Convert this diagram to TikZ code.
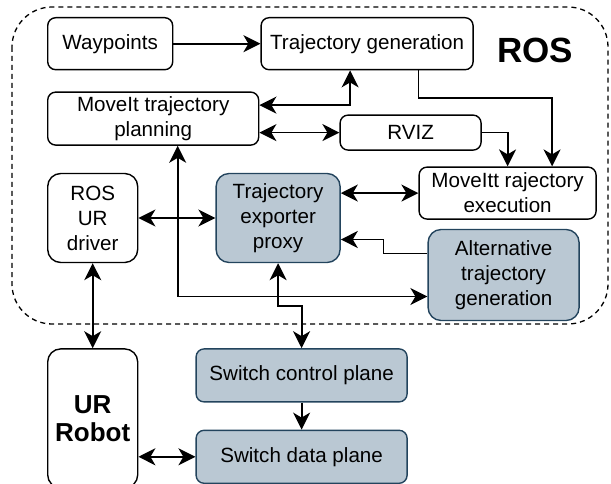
\documentclass[tikz,border=0pt]{standalone}
\usepackage{fontspec}
\setmainfont{Liberation Sans}
\usepackage{xcolor}
\usepackage{tikz}
\usetikzlibrary{arrows.meta,positioning}

\definecolor{proxyfill}{HTML}{BAC8D3}
\definecolor{proxydraw}{HTML}{23445D}

\begin{document}
\begin{tikzpicture}[
    x=1pt, y=1pt,
    block/.style={rectangle, rounded corners=8pt, draw=black, fill=white, line width=1.4pt, inner sep=0pt, align=center, font=\fontsize{20.6}{25}\selectfont},
    shaded/.style={block, rounded corners=13pt, draw=proxydraw, fill=proxyfill},
    link/.style={-{Stealth[length=17pt, width=17pt, inset=5pt]}, line width=1.8pt},
    dlink/.style={{Stealth[length=17pt, width=17pt, inset=5pt]}-{Stealth[length=17pt, width=17pt, inset=5pt]}, line width=1.8pt}
]
    \useasboundingbox (0,0) rectangle (611,-484);

    % ROS container
    \draw [dashed, dash pattern=on 5pt off 4pt, line width=1.3pt, rounded corners=40pt] (12,-7) rectangle (608,-324);
    \node (roslabel) at (535,-50) {\fontsize{35}{40}\selectfont\bfseries ROS};

    \node (wayp) [block, anchor=north west, minimum width=125pt, minimum height=52pt] at (47,-17) {Waypoints};
    \node (trajgen) [block, right=87pt of wayp, minimum width=212pt, minimum height=52pt] {Trajectory generation};
    \node (plan) [block, below right=21pt and 0pt of wayp.south west, minimum width=211pt, minimum height=53pt] {MoveIt trajectory\\planning};
    \node (rviz) [block, below right=23pt and 80pt of plan.north east, minimum width=141pt, minimum height=35pt] {RVIZ};
    \node (exec) [block, below right=96pt and 158pt of trajgen.south west, minimum width=177pt, minimum height=52pt] {MoveItt rajectory\\execution};
    \node (driver) [block, rounded corners=13pt, below right=27pt and 0pt of plan.south west, minimum width=90pt, minimum height=89pt] {ROS\\UR\\driver};
    \node (proxy) [shaded, right=77pt of driver, minimum width=124pt, minimum height=89pt] {Trajectory\\exporter\\proxy};
    \node (alt) [shaded, below right=9pt and 9pt of exec.south west, minimum width=151pt, minimum height=91pt] {Alternative\\trajectory\\generation};

    \node (robot) [block, rounded corners=13pt, below=85pt of driver, minimum width=90pt, minimum height=139pt, font=\fontsize{26}{28}\selectfont\bfseries] {UR\\Robot};
    \node (ctrl) [shaded, rounded corners=8pt, below right=0pt and 57pt of robot.north east, minimum width=211pt, minimum height=53pt] {Switch control plane};
    \node (data) [shaded, rounded corners=8pt, below=27pt of ctrl, minimum width=211pt, minimum height=53pt] {Switch data plane};

    \draw [link] (wayp) -- (trajgen);
    \draw [dlink] ([yshift=13.5pt]plan.east) -| ([xshift=-17pt]trajgen.south);
    \draw [dlink] (plan.east |- rviz.west) -- (rviz.west);
    \draw [link] (trajgen.south -| exec.west) -- ++(0,-28) -| ([xshift=44.5pt]exec.north);
    \draw [link] (rviz.east) -| (exec.north);
    \draw [dlink] (proxy.east |- exec.west) -- (exec.west);
    \draw [link] ([yshift=21.5pt]alt.west) -- ++(-44,0) |- ([yshift=-21.5pt]proxy.east);
    \draw [dlink] (driver) -- (proxy);
    \draw [dlink] ([xshift=24.5pt]plan.south) |- ([yshift=-21.5pt]alt.west);
    \draw [dlink] (proxy.south) -- ++(0,-43) -| (ctrl.north);
    \draw [dlink] (driver) -- (robot);
    \draw [link] (ctrl) -- (data);
    \draw [dlink] (robot.east |- data.west) -- (data.west);
\end{tikzpicture}
\end{document}
